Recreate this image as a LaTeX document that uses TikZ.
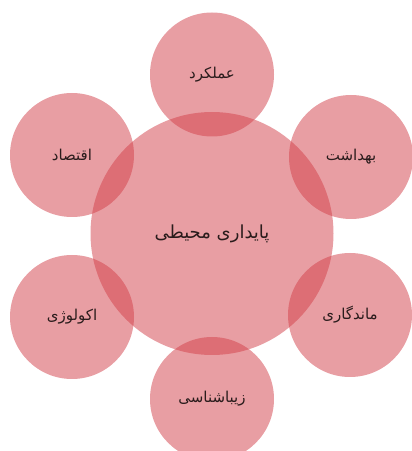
\documentclass[tikz,border=0pt]{standalone}
\usepackage{fontspec}
\newfontfamily\arabicfont[Script=Arabic]{DejaVu Sans}
\TeXXeTstate=1
\usetikzlibrary{positioning}
\definecolor{PKFill}{HTML}{D23E48}
\definecolor{PKInk}{HTML}{2A1C1C}
\tikzset{
  bubble/.style={circle,fill=PKFill,fill opacity=.5,text opacity=1,text=PKInk,
                 minimum size=124pt,inner sep=0pt,
                 font=\arabicfont\fontsize{15}{18}\selectfont},
  hub/.style={bubble,minimum size=243pt,font=\arabicfont\fontsize{18}{21}\selectfont},
}

\begin{document}
\begin{tikzpicture}[x=1pt,y=1pt]
  \useasboundingbox (0,0) rectangle (412,451);
  % central circle
  \node[hub] (hub) at (212,217.5) {\beginR پایداری محیطی\endR};

  % outer ring
  \foreach \nm/\px/\py/\txt in {perf/212/376.5/عملکرد,
                                health/351/294/بهداشت,
                                durable/350/136/ماندگاری,
                                aesth/212/52/زیباشناسی,
                                ecol/72/134/اکولوژی,
                                econ/72/296/اقتصاد}{
    \node[bubble] (\nm) at (\px,\py) {\beginR\txt\endR};
  }
\end{tikzpicture}
\end{document}
